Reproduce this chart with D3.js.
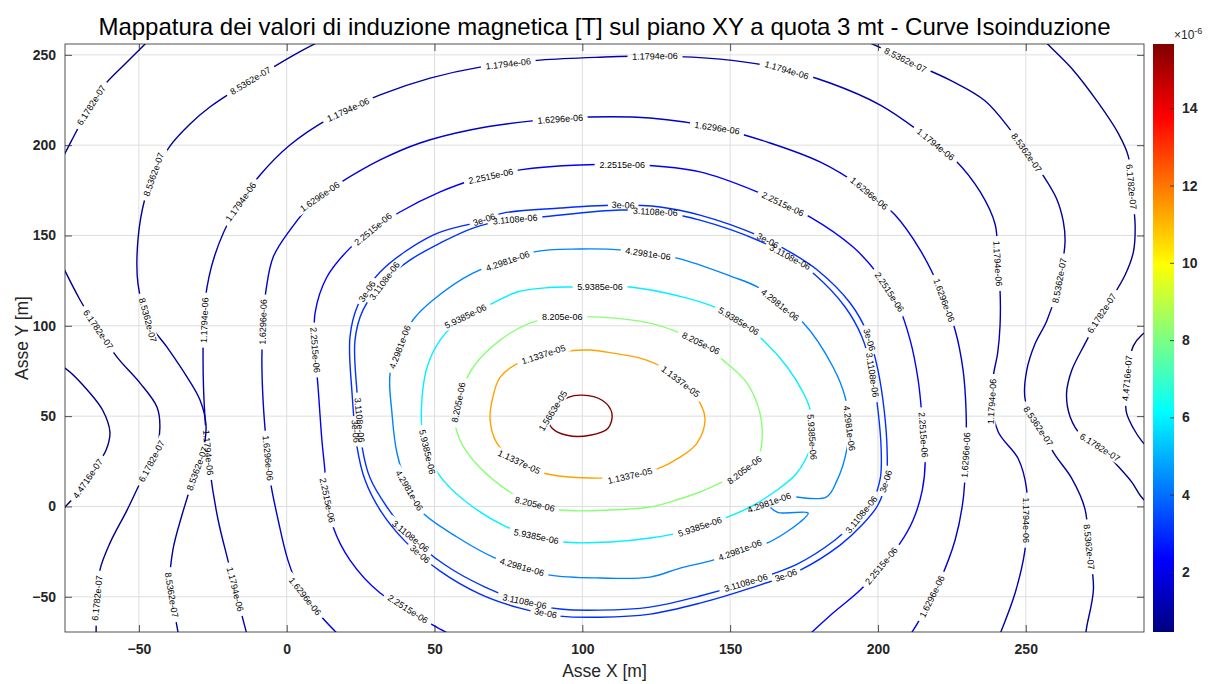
<!DOCTYPE html>
<html>
<head>
<meta charset="utf-8">
<script src="https://cdn.jsdelivr.net/npm/d3@7"></script>
<style>
body { margin: 0; background: #fff; }
svg { font-family: "Liberation Sans", Arial, sans-serif; }
</style>
</head>
<body>
<div id="chart"></div>
<script>
// contour levels [T] and the text clabel prints for them
var levels = [4.4716e-07, 6.1782e-07, 8.5362e-07, 1.1794e-06, 1.6296e-06, 2.2515e-06, 3e-06,
              3.1108e-06, 4.2981e-06, 5.9385e-06, 8.205e-06, 1.1337e-05, 1.5663e-05];
var levelText = ["4.4716e-07", "6.1782e-07", "8.5362e-07", "1.1794e-06", "1.6296e-06", "2.2515e-06", "3e-06",
                 "3.1108e-06", "4.2981e-06", "5.9385e-06", "8.205e-06", "1.1337e-05", "1.5663e-05"];
var xTicks = [-50, 0, 50, 100, 150, 200, 250];
var yTicks = [-50, 0, 50, 100, 150, 200, 250];
var cbTicks = [2, 4, 6, 8, 10, 12, 14];

// isolines, points [x m, y m]; *Tags = where clabel put the text
var iso1L = [[-77,78],[-75,76.6],[-66.5,62.7],[-62.2,53.1],[-59.8,41.1],[-61.1,31.2],[-64.8,21.3],[-69.9,9.1],[-75,-0.3],[-77,-3]];
var iso1LTags = [[-67.6,15.7]];
var iso1R = [[292,98],[289.4,95.2],[286.4,88.9],[284.5,75],[283.8,62],[284.1,51.8],[286.4,43.3],[289.4,35.9],[292,32]];
var iso1RTags = [[284.5,70.9]];

var iso2T = [[-45.5,260],[-47.9,256],[-54.7,244.9],[-62.2,232.2],[-67.6,218.3],[-72.7,202.8],[-77,189]];
var iso2TTags = [[-66,222]];
var iso2L = [[-77,137],[-69.9,114.3],[-64.8,100.4],[-57.4,82.7],[-49.6,68.3],[-43.9,55],[-42.9,43.8],[-44.6,28.5],
             [-49.6,13],[-54,-2],[-59.8,-20.3],[-63.2,-35.2],[-64.2,-51.9],[-64.5,-73]];
var iso2LTags = [[-63.9,97.7],[-45.2,24.6],[-64.2,-50.7]];
var iso2R = [[255,260],[256.5,257.4],[265.5,242.6],[274.5,223.5],[281.3,206.5],[284.7,193.8],[285.8,176],[287,155.7],
             [286.4,140.8],[283.6,128.1],[279.1,115.4],[275.7,106.9],[270,90],[265.5,75.1],[263.8,62.4],[265,49.7],
             [268.9,39.1],[275.1,32.7],[281.3,22.1],[285.8,13.6],[289.2,5.1],[292,1]];
var iso2RTags = [[285.5,176.9],[275.7,106.9],[275.1,32.7]];

var iso3L = [[12.3,258.4],[4.5,251.8],[-4.6,243.2],[-15.8,232.2],[-26,221.1],[-32.7,211.7],[-39.5,199.5],[-44.6,185.7],
             [-48,170.2],[-50.3,148],[-50.3,123.1],[-46.9,102.6],[-40.5,88.2],[-33.7,71.6],[-29.3,58.8],[-27.3,45],
             [-28.6,28.5],[-31.7,14.6],[-35.4,-4.6],[-38.5,-24.1],[-39.5,-43.5],[-37.8,-60.2],[-36.4,-73]];
var iso3LTags = [[-12.4,236],[-44.6,183.5],[-46.9,103.2],[-31,21.3],[-38.8,-49]];
var iso3R = [[194.6,258.4],[200.8,254],[209.3,247.1],[224.4,236],[236.2,224.6],[245.2,207.6],[250.3,195.9],[255.9,183.2],
             [260.4,170.5],[262.7,157.8],[263.3,147.2],[262.5,135],[261,121.7],[257.1,102.7],[253.1,89.9],[250.3,75.1],
             [249.7,60.3],[251.5,51],[254.2,44.4],[259.9,28.5],[265.5,15.7],[270,-1.2],[271.4,-22.4],[272.9,-45.7],
             [270.6,-66.9],[270.1,-73]];
var iso3RTags = [[209.3,247.1],[250.3,195.9],[261.5,125],[254.2,44.4],[271.4,-22.4]];

var iso4 = [[-13.1,-73],[-16.5,-51.9],[-19.9,-29.7],[-23.2,-7.5],[-26,20.2],[-27.6,47.8],[-28.3,81],[-27.6,114.3],
            [-24.3,139.2],[-17.5,164.1],[-9,183.5],[1.1,200.1],[14.6,215],[31.6,227.8],[48.5,237.1],[65.4,243.2],
            [85.7,247.1],[106,248.7],[126.3,249.3],[146.6,247.6],[166.9,242.6],[183.8,234.4],[200.8,222.2],[214.3,207.3],
            [226.1,191.8],[234.6,174.1],[239.7,155.8],[240.5,134.5],[241.3,119.6],[241.3,100],[240.5,85],[239,72],
            [238.5,58],[240.7,41.2],[247.5,26.3],[250.3,9.4],[250.3,-7.6],[249.7,-24.5],[246.4,-47.9],[240.7,-73]];
var iso4Tags = [[-18.5,-46.3],[-25.5,30],[-28.3,103.2],[-16.5,169.7],[19.7,223.3],[74.9,246],[124.6,248.7],
                [168.6,238.8],[219.3,200],[240.5,134.5],[238.5,58.1],[250.3,-7.6]];

var iso5 = [[18.7,-73],[11.3,-60.2],[4.5,-46.3],[0.4,-29.7],[-2.9,-7.5],[-5.6,14.6],[-7,36.8],[-8,58.8],[-8.4,81],
            [-8,103.2],[-7,119.8],[-4.6,138],[1.1,153],[9.6,169.7],[18,179.1],[31.6,191.8],[45.1,201.2],[62,208.4],
            [82.3,213.3],[102.6,215.6],[122.9,215],[145.6,209.5],[163.5,201.2],[180.4,190.7],[194,177.4],[205.8,161.3],
            [214.3,141.9],[221.1,119.8],[226.1,97.7],[228.8,75.5],[229.8,53.4],[229.8,31.2],[228.8,3.5],[226.1,-18.6],
            [221.1,-40.7],[216,-57.4],[210.2,-73]];
var iso5Tags = [[5.5,-50.7],[-6.3,26.8],[-7.7,102.1],[11.9,169.7],[92.5,215],[145.6,209.5],[198,175.2],
                [222.7,114.3],[229.8,28.5],[219.3,-50.7]];

var iso6 = [[57.9,-73],[49.5,-65.7],[41,-56.8],[31.6,-47.9],[21.4,-29.7],[15.7,-11.4],[13.6,4.7],[12.9,20.2],
            [11.9,36.8],[10.6,66.1],[9.6,86.6],[9.6,107.1],[13.6,127],[21.4,143],[29.2,153.5],[38.3,163],[51.9,174.1],
            [63,180.7],[78.9,186.3],[99.2,189],[119.5,189],[139.8,185.2],[159.2,174.1],[177.1,160.2],[191.6,143.6],
            [199.7,129.2],[206.8,111.5],[210.9,92.1],[213.6,70],[215,47.8],[216,25.7],[215,9.1],[211.9,-7.5],
            [207.5,-20.3],[200.8,-33.5],[194,-46.3],[184.8,-59],[175.4,-73]];
var iso6Tags = [[41,-56.8],[14,3.5],[9.6,86.6],[29.2,153.5],[68.8,184.6],[113.5,189],[168,168],[203.4,118.2],
                [214.6,39.6],[200.8,-32.4]];

// closed loops (first point repeated at the end)
var iso7 = [[73.2,162.4],[92.5,165.2],[112.8,166.9],[126.3,165.8],[139.8,161.3],[159.2,150.2],[170.3,140.8],[179.5,130.9],
            [190.6,112.6],[196.7,94.9],[200,75.5],[202.1,53.4],[203.1,31.2],[202.8,14.6],[200,0.8],[194.6,-10.3],
            [187.2,-21.4],[173.7,-35.2],[156.8,-45.2],[139.8,-53.5],[122.9,-59.6],[106,-61.3],[92.5,-60.7],[78.9,-56.3],
            [65.4,-48.5],[51.9,-35.8],[40,-19.2],[31.6,-2],[26.5,14.6],[23.8,32.9],[22.1,62.7],[21.4,93.8],[24.1,111.5],
            [31.6,129.8],[49.5,150.2],[64.3,157.4],[73.2,162.4]];
var iso7Tags = [[67.1,157.4],[113.8,166.3],[162.5,146.4],[196.7,92.1],[203.4,13.5],[169.6,-41.4],[87.4,-60.7],
                [43.4,-29.7],[23.1,41.6],[28.2,118]];

var iso8 = [[85.7,160.2],[112.8,164.1],[126.3,163],[139.8,158.5],[159.2,147.5],[170.3,138],[178.8,128.1],[188.9,110.4],
            [194.6,93.8],[198,74.4],[200,53.4],[201.1,31.2],[200.8,15.7],[198.3,3.5],[192.9,-7.5],[185.5,-18.6],
            [172.7,-31.9],[156,-41.9],[139.8,-49.6],[122.9,-55.7],[106,-57.4],[92.5,-56.8],[79.6,-52.4],[67.1,-44.6],
            [53.6,-32.4],[41.7,-16.3],[33.9,-0.3],[28.2,15.7],[25.5,32.9],[23.8,62.7],[23.1,92.1],[25.8,108.7],
            [33.3,125.4],[41.7,136.4],[51.9,145.8],[63,154.1],[73.9,158.5],[85.7,160.2]];
var iso8Tags = [[77.2,159.6],[124.6,161.3],[170.3,138],[198.3,72.8],[194.6,-4.7],[156,-46.1],[80,-56.3],
                [39.4,-21.4],[24.1,47.8],[34,123.7]];

var iso9 = [[113.8,141.9],[132,137.5],[151,127],[159.2,121.5],[166.9,111.5],[174.8,101.5],[184.8,77.2],[188.9,60.5],
            [190.3,43.3],[188.9,27.3],[186.2,14.6],[182.5,5.2],[168.6,5.2],[162.9,1.9],[165.9,-3.1],[176.4,-3.7],
            [173.7,-8.6],[162.5,-20.3],[153.4,-24.1],[144.2,-29.7],[133.1,-34.1],[122.9,-39.1],[106,-39.6],[89.1,-38],
            [79.6,-33.5],[69.8,-28],[57.6,-16.9],[45.8,-3.1],[41.4,9.1],[37.3,29.6],[35.6,51.7],[35,73.9],[38.3,88.2],
            [42.7,103.2],[49.5,114.3],[63,129.2],[83.3,140.8],[99.2,142.5],[113.8,141.9]];
var iso9Tags = [[122.3,140.3],[166.9,111.5],[190.3,43.3],[163,3],[153.4,-24.6],[79.6,-33.5],[41.7,9.1],
                [38.3,88.2],[74.9,135]];

var iso10 = [[96.9,121.5],[116.1,121.5],[134.1,115.9],[145.6,109.8],[153.4,102.1],[161.1,92.1],[169.3,77.2],[174.8,62.7],
             [177.1,53.3],[177.8,36.8],[175.4,25.7],[172,17.4],[165.9,9.1],[156.8,-0.3],[146.6,-7.5],[136.5,-13.1],
             [122.9,-17.5],[109.4,-19.7],[93.5,-19.7],[82.3,-15.9],[74.5,-11.4],[63,-0.3],[52.9,14.6],[47.8,28.5],
             [45.8,42.2],[45.8,60.5],[47.5,77.2],[51.9,92.1],[59.3,104.3],[69.8,112.6],[77.9,118.7],[87.4,121],[96.9,121.5]];
var iso10Tags = [[106,121.5],[61,103.5],[47.5,30.2],[152.7,102.1],[175.4,38.2],[139.8,-11.4],[84.4,-16.9]];

var iso11 = [[106,104.8],[122.9,101.5],[133.1,96],[141.5,89.3],[147.6,81],[155.7,68.3],[160.1,51.7],[160.8,36.8],
             [159.2,25.7],[153.4,18.5],[146.6,13],[139.8,8],[129.7,2.5],[122.9,-0.3],[109.4,-2],[92.5,-2],[82.3,1.9],
             [72.2,11.8],[63.6,24.6],[58.6,36.8],[56.9,47.8],[58.6,61.6],[63.6,78.3],[72.2,92.1],[82.3,101.5],[92.5,104.8],[106,104.8]];
var iso11Tags = [[93.2,103],[139.8,89.3],[154,22],[84,1.9],[57.5,57.8]];

var iso12 = [[102.6,86.6],[110.4,84.9],[119.5,82.1],[126.3,77.7],[134.8,67.2],[139.8,57.3],[141.5,47.8],[138.8,35.1],
             [133.1,27.3],[124.6,20.2],[114.4,16.3],[106,15.7],[95.8,16.3],[86.7,18.5],[77.2,25.7],[71.1,35.1],
             [68.8,47.8],[69.5,58.8],[72.2,71.6],[78.9,79.9],[87.4,84.4],[94.8,86],[102.6,86.6]];
var iso12Tags = [[87.4,81.5],[133.1,68.9],[78.9,25.7],[116.1,17]];

var iso13 = [[99.9,61.6],[106.7,58.8],[110,51.7],[108.7,43.3],[102.6,39.4],[94.8,39.4],[89.8,43.3],[88.5,48.9],
             [91.2,56],[95.2,60.4],[99.9,61.6]];
var iso13Tags = [[91,52]];

// level index, points, label spots
var isoLines = [
    [0, iso1L, iso1LTags], [0, iso1R, iso1RTags],
    [1, iso2T, iso2TTags], [1, iso2L, iso2LTags], [1, iso2R, iso2RTags],
    [2, iso3L, iso3LTags], [2, iso3R, iso3RTags],
    [3, iso4, iso4Tags], [4, iso5, iso5Tags], [5, iso6, iso6Tags],
    [6, iso7, iso7Tags], [7, iso8, iso8Tags], [8, iso9, iso9Tags], [9, iso10, iso10Tags],
    [10, iso11, iso11Tags], [11, iso12, iso12Tags], [12, iso13, iso13Tags]
];

///////////////Chart

var svgWidth = 1215, svgHeight = 684;
var plotLeft = 65, plotRight = 1144, plotTop = 44, plotBottom = 632;
var axisColour = "#262626";

var x = d3.scaleLinear().domain([-75, 290]).range([plotLeft, plotRight]);
var y = d3.scaleLinear().domain([-69.5, 256]).range([plotBottom, plotTop]);
var cMin = levels[0], cMax = levels[levels.length - 1];
var cScale = d3.scaleLinear().domain([cMin * 1e6, cMax * 1e6]).range([plotBottom, plotTop]);

// matlab jet
function jet(t) {
    function c(v) { return Math.max(0, Math.min(1, v)); }
    return d3.rgb(255 * c(1.5 - Math.abs(4 * t - 3)), 255 * c(1.5 - Math.abs(4 * t - 2)), 255 * c(1.5 - Math.abs(4 * t - 1))).formatHex();
}

var svg = d3.select("#chart").append("svg").attr("width", svgWidth).attr("height", svgHeight);
svg.append("rect").attr("width", svgWidth).attr("height", svgHeight).attr("fill", "#fff");
var defs = svg.append("defs");
defs.append("clipPath").attr("id", "plotClip").append("rect")
    .attr("x", plotLeft).attr("y", plotTop)
    .attr("width", plotRight - plotLeft).attr("height", plotBottom - plotTop);

//grid
var grid = svg.append("g");
xTicks.forEach(function(v) {
    grid.append("line").attr("x1", x(v)).attr("x2", x(v)).attr("y1", plotTop).attr("y2", plotBottom)
        .style("stroke", "#dedede").style("stroke-width", 1);
});
yTicks.forEach(function(v) {
    grid.append("line").attr("x1", plotLeft).attr("x2", plotRight).attr("y1", y(v)).attr("y2", y(v))
        .style("stroke", "#dedede").style("stroke-width", 1);
});

//isolines
var plotArea = svg.append("g").attr("clip-path", "url(#plotClip)");
var labelLayer = svg.append("g").attr("clip-path", "url(#plotClip)");
var line = d3.line().x(function(d) { return x(d[0]); }).y(function(d) { return y(d[1]); });

// nearest spot on the polyline (in pixels) and its direction
function spotOnLine(pix, px, py) {
    var best = null, bestD = Infinity;
    for (var k = 0; k < pix.length - 1; k++) {
        var ax = pix[k][0], ay = pix[k][1], bx = pix[k + 1][0], by = pix[k + 1][1];
        var dx = bx - ax, dy = by - ay, l2 = dx * dx + dy * dy;
        var u = l2 > 0 ? Math.max(0, Math.min(1, ((px - ax) * dx + (py - ay) * dy) / l2)) : 0;
        var qx = ax + u * dx, qy = ay + u * dy;
        var d = (qx - px) * (qx - px) + (qy - py) * (qy - py);
        if (d < bestD) { bestD = d; best = { x: qx, y: qy, ang: Math.atan2(dy, dx) * 180 / Math.PI }; }
    }
    return best;
}

isoLines.forEach(function(iso, i) {
    var pts = iso[1];
    var closed = pts[0][0] === pts[pts.length - 1][0] && pts[0][1] === pts[pts.length - 1][1];
    line.curve(closed ? d3.curveCatmullRomClosed.alpha(0.5) : d3.curveCatmullRom.alpha(0.5));
    var colour = jet((levels[iso[0]] - cMin) / (cMax - cMin));
    var path = plotArea.append("path")
        .attr("d", line(closed ? pts.slice(0, -1) : pts))
        .attr("fill", "none")
        .style("stroke", colour).style("stroke-width", 1.4);

    var pix = pts.map(function(d) { return [x(d[0]), y(d[1])]; });
    var mask = defs.append("mask").attr("id", "gap" + i).attr("maskUnits", "userSpaceOnUse")
        .attr("x", 0).attr("y", 0).attr("width", svgWidth).attr("height", svgHeight);
    mask.append("rect").attr("width", svgWidth).attr("height", svgHeight).attr("fill", "#fff");

    iso[2].forEach(function(t) {
        var p = spotOnLine(pix, x(t[0]), y(t[1]));
        var ang = p.ang;
        if (ang > 90) ang -= 180;
        if (ang < -90) ang += 180;
        var tr = "translate(" + p.x.toFixed(1) + "," + p.y.toFixed(1) + ") rotate(" + ang.toFixed(1) + ")";
        labelLayer.append("text")
            .attr("transform", tr)
            .attr("text-anchor", "middle")
            .attr("dy", "0.35em")
            .attr("font-size", 9)
            .attr("fill", "#000")
            .text(levelText[iso[0]]);
        var w = levelText[iso[0]].length * 4.9;
        mask.append("rect").attr("transform", tr)
            .attr("x", -w / 2 - 3).attr("y", -5).attr("width", w + 6).attr("height", 10)
            .attr("fill", "#000");
    });
    path.attr("mask", "url(#gap" + i + ")");
});

//axes
function styleAxis(g, showText) {
    g.select(".domain").remove();
    g.selectAll(".tick line").style("stroke", axisColour).style("stroke-width", 0.8);
    g.selectAll(".tick text")
        .attr("font-family", "'Liberation Sans', Arial, sans-serif")
        .attr("font-size", 14).attr("font-weight", "bold").attr("fill", axisColour);
    if (!showText) g.selectAll(".tick text").remove();
}
svg.append("g").attr("transform", "translate(0," + plotBottom + ")")
    .call(d3.axisBottom(x).tickValues(xTicks).tickSize(-7).tickPadding(12))
    .call(styleAxis, true);
svg.append("g").attr("transform", "translate(0," + plotTop + ")")
    .call(d3.axisTop(x).tickValues(xTicks).tickSize(-7))
    .call(styleAxis, false);
svg.append("g").attr("transform", "translate(" + plotLeft + ",0)")
    .call(d3.axisLeft(y).tickValues(yTicks).tickSize(-7).tickPadding(9))
    .call(styleAxis, true);
svg.append("g").attr("transform", "translate(" + plotRight + ",0)")
    .call(d3.axisRight(y).tickValues(yTicks).tickSize(-7))
    .call(styleAxis, false);

svg.append("rect")
    .attr("x", plotLeft).attr("y", plotTop)
    .attr("width", plotRight - plotLeft).attr("height", plotBottom - plotTop)
    .attr("fill", "none").style("stroke", axisColour).style("stroke-width", 0.8);

//titles
svg.append("text")
    .text("Mappatura dei valori di induzione magnetica [T] sul piano XY a quota 3 mt - Curve Isoinduzione")
    .attr("x", (plotLeft + plotRight) / 2).attr("y", 35)
    .attr("text-anchor", "middle").attr("font-size", 24).attr("fill", "#000");
svg.append("text").text("Asse X [m]")
    .attr("x", (plotLeft + plotRight) / 2).attr("y", 677)
    .attr("text-anchor", "middle").attr("font-size", 17.5).attr("fill", axisColour);
svg.append("text").text("Asse Y [m]")
    .attr("transform", "translate(28," + (plotTop + plotBottom) / 2 + ") rotate(-90)")
    .attr("text-anchor", "middle").attr("font-size", 17.5).attr("fill", axisColour);

//colorbar
var cbLeft = 1153, cbWidth = 21;
var grad = defs.append("linearGradient").attr("id", "jetGrad")
    .attr("x1", 0).attr("y1", 1).attr("x2", 0).attr("y2", 0);
d3.range(0, 1.0001, 1 / 32).forEach(function(t) {
    grad.append("stop").attr("offset", t).attr("stop-color", jet(t));
});
svg.append("rect")
    .attr("x", cbLeft).attr("y", plotTop)
    .attr("width", cbWidth).attr("height", plotBottom - plotTop)
    .attr("fill", "url(#jetGrad)");
svg.append("g").attr("transform", "translate(" + (cbLeft + cbWidth) + ",0)")
    .call(d3.axisRight(cScale).tickValues(cbTicks).tickSize(-4).tickPadding(8))
    .call(styleAxis, true);
var mult = svg.append("text").attr("x", 1174).attr("y", 39)
    .attr("font-size", 12).attr("fill", axisColour);
mult.append("tspan").text("\u00d710");
mult.append("tspan").text("-6").attr("font-size", 9).attr("dy", -5);
</script>
</body>
</html>
